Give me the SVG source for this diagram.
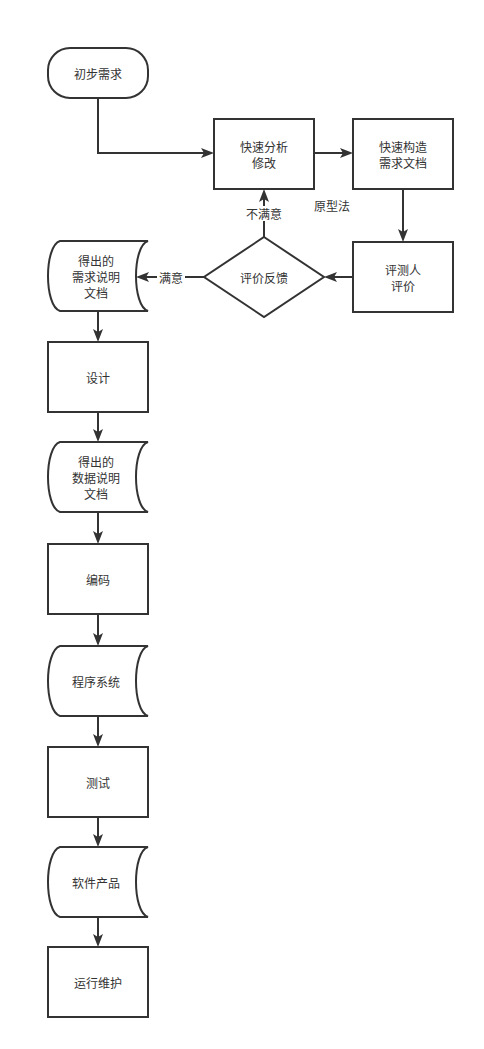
<svg xmlns="http://www.w3.org/2000/svg" width="484" height="1049" viewBox="0 0 484 1049">
<style>
.n{fill:#fff;stroke:#333;stroke-width:2}
.t{font-family:"Noto Sans CJK SC","Liberation Sans",sans-serif;font-size:12px;fill:#333;text-anchor:middle;dominant-baseline:central}
.c{fill:none;stroke:#333;stroke-width:2;marker-end:url(#a)}
</style>
<defs>
<marker id="a" viewBox="0 0 13 10" refX="3" refY="5" markerWidth="13" markerHeight="10" markerUnits="userSpaceOnUse" orient="auto">
<path d="M0,0 L13,5 L0,10 L3,5 z" fill="#333"/>
</marker>
</defs>
<rect width="484" height="1049" fill="#fff"/>
<g id="connectors">
<path class="c" d="M98 98 V153 H204"/>
<path class="c" d="M314 153 H343"/>
<path class="c" d="M403 189 V232"/>
<path class="c" d="M353 277 H334"/>
<path class="c" d="M264 237 V199"/>
<path class="c" d="M204 277 H146"/>
<path class="c" d="M98 311 V332"/>
<path class="c" d="M98 412 V432"/>
<path class="c" d="M98 512 V534"/>
<path class="c" d="M98 614 V636"/>
<path class="c" d="M98 716 V737"/>
<path class="c" d="M98 817 V837"/>
<path class="c" d="M98 917 V937"/>
<rect x="243" y="206" width="42" height="15" fill="#fff"/>
<text class="t" x="264" y="213">不满意</text>
<rect x="157" y="270" width="28" height="15" fill="#fff"/>
<text class="t" x="171" y="277">满意</text>
<text class="t" x="332" y="205">原型法</text>
</g>
<g id="start">
<rect class="n" x="48" y="48" width="100" height="50" rx="22" ry="22"/>
<text class="t" x="98" y="73">初步需求</text>
</g>
<g id="modify">
<rect class="n" x="214" y="119" width="100" height="70"/>
<text class="t" x="264" y="146">快速分析</text>
<text class="t" x="264" y="162">修改</text>
</g>
<g id="build">
<rect class="n" x="353" y="119" width="100" height="70"/>
<text class="t" x="403" y="146">快速构造</text>
<text class="t" x="403" y="162">需求文档</text>
</g>
<g id="evaluate">
<rect class="n" x="353" y="242" width="100" height="70"/>
<text class="t" x="403" y="269">评测人</text>
<text class="t" x="403" y="285">评价</text>
</g>
<g id="feedback">
<path class="n" d="M264 237 L324 277 L264 317 L204 277 Z"/>
<text class="t" x="264" y="277">评价反馈</text>
</g>
<g id="reqdoc">
<path class="n" d="M60 241 H148 C132 246 132 306 148 311 H60 C44 306 44 246 60 241 Z"/>
<text class="t" x="96" y="260">得出的</text>
<text class="t" x="96" y="276">需求说明</text>
<text class="t" x="96" y="292">文档</text>
</g>
<g id="design">
<rect class="n" x="48" y="342" width="100" height="70"/>
<text class="t" x="98" y="377">设计</text>
</g>
<g id="datadoc">
<path class="n" d="M60 442 H148 C132 447 132 507 148 512 H60 C44 507 44 447 60 442 Z"/>
<text class="t" x="96" y="461">得出的</text>
<text class="t" x="96" y="477">数据说明</text>
<text class="t" x="96" y="493">文档</text>
</g>
<g id="coding">
<rect class="n" x="48" y="544" width="100" height="70"/>
<text class="t" x="98" y="579">编码</text>
</g>
<g id="program">
<path class="n" d="M60 646 H148 C132 651 132 711 148 716 H60 C44 711 44 651 60 646 Z"/>
<text class="t" x="96" y="681">程序系统</text>
</g>
<g id="test">
<rect class="n" x="48" y="747" width="100" height="70"/>
<text class="t" x="98" y="782">测试</text>
</g>
<g id="product">
<path class="n" d="M60 847 H148 C132 852 132 912 148 917 H60 C44 912 44 852 60 847 Z"/>
<text class="t" x="96" y="882">软件产品</text>
</g>
<g id="maintain">
<rect class="n" x="48" y="947" width="100" height="70"/>
<text class="t" x="98" y="982">运行维护</text>
</g>
</svg>
